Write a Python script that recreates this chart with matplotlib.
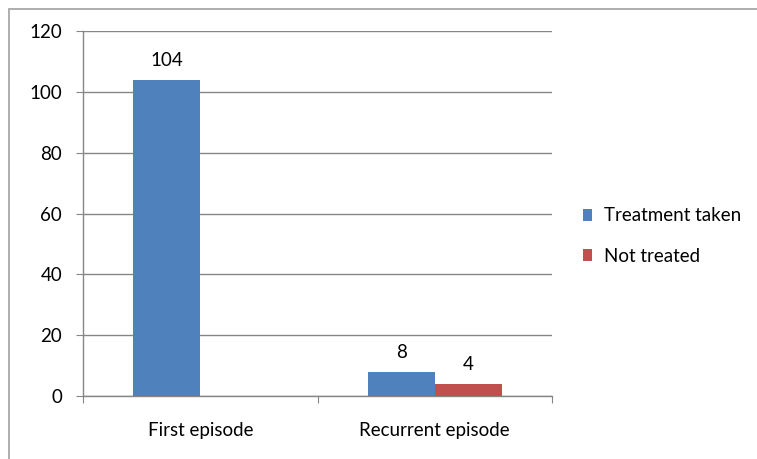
import numpy as np
import matplotlib.pyplot as plt
from matplotlib.patches import Rectangle

categories = ["First episode", "Recurrent episode"]
treated = [104, 8]
not_treated = [0, 4]
series_names = ["Treatment taken", "Not treated"]

blue = "#4F81BD"
red = "#C0504D"
grid_col = "#868686"

plt.rcParams['font.family'] = ['Lato', 'DejaVu Sans']
fs = 13.5

fig = plt.figure(figsize=(7.57, 4.59), dpi=100)
ax = fig.add_axes([83/757, 1 - 396/459, (552 - 83)/757, (396 - 31)/459])

# outer chart border
fig.patches.append(Rectangle((9/757, -0.05), 1.2, 1 - 9/459 + 0.05,
                             transform=fig.transFigure, fill=False,
                             edgecolor="#A0A0A0", linewidth=1.2))

x = np.arange(len(categories))
w = 1 / 3.5
b1 = ax.bar(x - w/2, treated, w, color=blue, label=series_names[0], zorder=3)
b2 = ax.bar(x + w/2, not_treated, w, color=red, label=series_names[1], zorder=3)

# data labels (skip zero values)
for bars, vals in ((b1, treated), (b2, not_treated)):
    for bar, v in zip(bars, vals):
        if v == 0:
            continue
        ax.annotate(str(v), (bar.get_x() + bar.get_width()/2, v),
                    xytext=(0, 8), textcoords="offset points",
                    ha="center", va="bottom", fontsize=fs)

ax.set_xlim(-0.5, 1.5)
ax.set_ylim(0, 120)
ax.set_yticks(range(0, 121, 20))
ax.yaxis.grid(True, color=grid_col, linewidth=1, zorder=0)
ax.set_axisbelow(True)

# category boundary ticks
ax.set_xticks([-0.5, 0.5, 1.5])
ax.set_xticklabels([])
ax.set_xticks(x, minor=True)
ax.set_xticklabels(categories, minor=True, fontsize=fs)
ax.tick_params(axis="x", which="minor", length=0, pad=19)
ax.tick_params(axis="x", which="major", length=5, color=grid_col, direction="out")
ax.tick_params(axis="y", length=5, color=grid_col, labelsize=fs, pad=10)

for side in ("top", "right"):
    ax.spines[side].set_visible(False)
for side in ("left", "bottom"):
    ax.spines[side].set_color(grid_col)
    ax.spines[side].set_linewidth(1)

leg = fig.legend(handles=[b1, b2], labels=series_names,
                 loc="center left", bbox_to_anchor=(566/757, 1 - 236/459),
                 frameon=False, fontsize=fs, handlelength=0.5, handleheight=0.6,
                 handletextpad=0.6, labelspacing=1.25)

fig.savefig("out.png", dpi=100)
